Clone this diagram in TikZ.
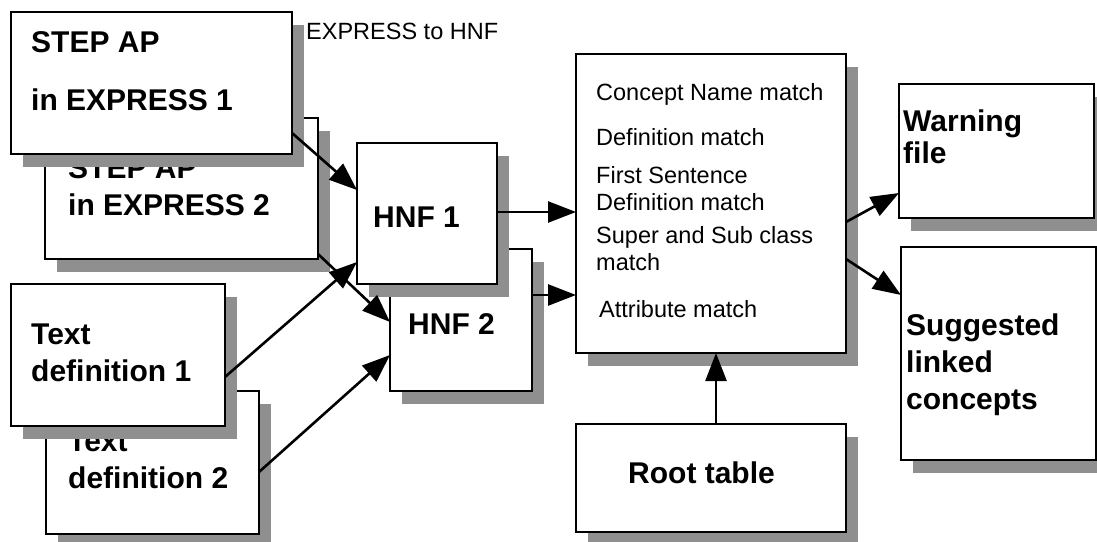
\documentclass[tikz,border=0pt]{standalone}
\usepackage{fontspec}
\setmainfont{Liberation Sans}
\usetikzlibrary{arrows.meta, shadows}
\definecolor{Shade}{HTML}{8F8F8F}
\definecolor{Ink}  {HTML}{000000}

\begin{document}
\begin{tikzpicture}[
  x=1pt, y=-1pt,
  blk/.style={draw=Ink, fill=white, line width=2.6pt, inner sep=0pt,
              outer sep=0pt, anchor=north west,
              drop shadow={shadow xshift=12pt, shadow yshift=-13pt,
                           fill=Shade, opacity=1}},
  big/.style={font=\fontsize{30}{37}\selectfont\bfseries, text=Ink,
              anchor=north west, inner sep=0pt, align=left},
  small/.style={font=\fontsize{23.5}{27}\selectfont, text=Ink,
              anchor=north west, inner sep=0pt, align=left},
  arr/.style={-{Triangle[length=28pt, width=21pt]}, line width=2.6pt,
              color=Ink},
]
  \useasboundingbox (0,0) rectangle (1097,541);

  % source models, back copy first
  \node[blk, minimum width=273pt, minimum height=141pt] (step2) at (45,118) {};
  \node[big] (step2t) at (68,157) {STEP AP\\in EXPRESS 2};
  \node[blk, minimum width=281pt, minimum height=142pt] (step1) at (11,12) {};
  \node[big] (step1t) at (31,31) {STEP AP\\[21pt]in EXPRESS 1};

  \node[blk, minimum width=213pt, minimum height=143pt] (txt2) at (46,391) {};
  \node[big] (txt2t) at (68,431) {Text\\definition 2};
  \node[blk, minimum width=214pt, minimum height=142pt] (txt1) at (11,284) {};
  \node[big] (txt1t) at (31,324) {Text\\definition 1};

  % normal forms
  \node[blk, minimum width=142pt, minimum height=142pt] (hnf2) at (390,249) {};
  \node[big] (hnf2t) at (408,313) {HNF 2};
  \node[blk, minimum width=140pt, minimum height=141pt] (hnf1) at (357,143) {};
  \node[big] (hnf1t) at (373,207) {HNF 1};
  \node[small] (conv) at (306,23) {EXPRESS to HNF};

  % matcher
  \node[blk, minimum width=270pt, minimum height=299pt] (match) at (576,54) {};
  \node[small] (matcht) at (596,83)
    {Concept Name match\\[18pt]Definition match\\[11pt]First Sentence\\
     Definition match\\[6pt]Super and Sub class\\match\\[20pt]
     \hspace*{3pt}Attribute match};

  \node[blk, minimum width=270pt, minimum height=108pt] (root) at (576,424) {};
  \node[big] (roott) at (628,462) {Root table};

  % outputs
  \node[blk, minimum width=195pt, minimum height=134pt] (warn) at (899,84) {};
  \node[big] (warnt) at (903,110) {Warning\\[-5pt]file};
  \node[blk, minimum width=195pt, minimum height=213pt] (linked) at (901,247) {};
  \node[big] (linkedt) at (906,314) {Suggested\\linked\\concepts};

  % connectors
  \draw[arr] ([yshift=21pt]step1.south east) -- ([yshift=-47pt]hnf1.north west);
  \draw[arr] ([yshift=5pt]step2.south east)  -- ([yshift=-73pt]hnf2.north west);
  \draw[arr] ([yshift=-93pt]txt1.north east) -- ([yshift=22pt]hnf1.south west);
  \draw[arr] ([yshift=-81pt]txt2.north east) -- ([yshift=36pt]hnf2.south west);
  \draw[arr] ([yshift=-69pt]hnf1.north east) -- ([yshift=-158pt]match.north west);
  \draw[arr] ([yshift=-46pt]hnf2.north east) -- ([yshift=-241pt]match.north west);
  \draw[arr] ([yshift=-168pt]match.north east) -- ([yshift=-109pt]warn.north west);
  \draw[arr] ([yshift=-205pt]match.north east) -- ([yshift=-48pt]linked.north west);
  \draw[arr] ([xshift=5pt]root.north) -- ([xshift=5pt]match.south);
\end{tikzpicture}
\end{document}
